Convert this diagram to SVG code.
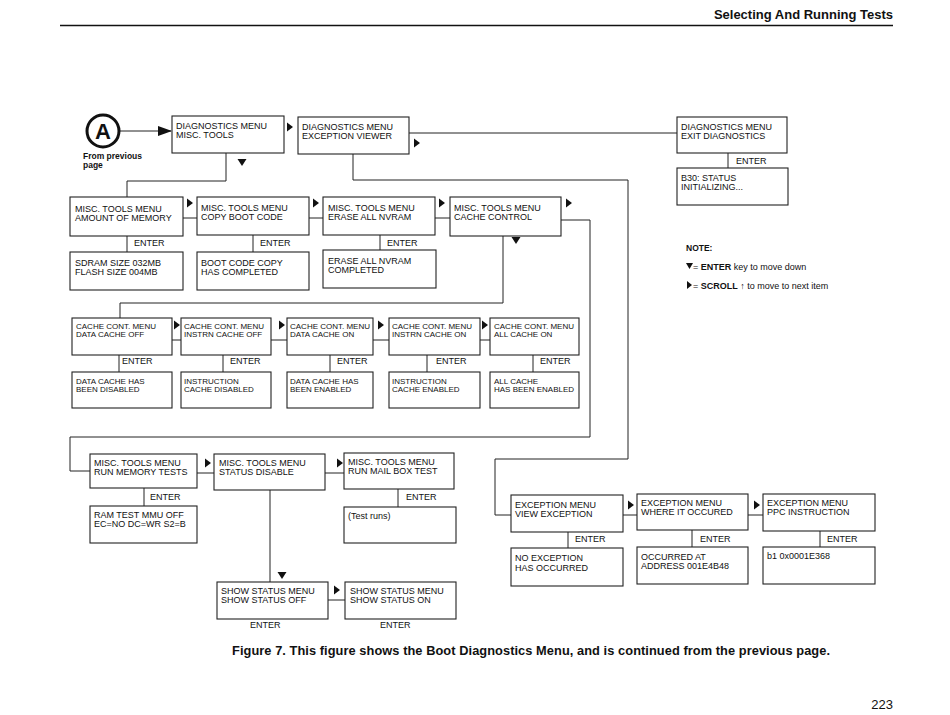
<svg xmlns="http://www.w3.org/2000/svg" width="950" height="715" viewBox="0 0 950 715">
<style>
  .b { fill: #fff; stroke: #222; stroke-width: 1.1; }
  .c { fill: none; stroke: #222; stroke-width: 1; }
  text { font-family: "Liberation Sans", Arial, sans-serif; fill: #111; }
  .t { font-size: 9px; }
  .s { font-size: 8px; }
  .e { font-size: 9px; }
  .tri { fill: #111; }
</style>
<defs>
  <polygon id="tr" class="tri" points="0,-4.5 0,4.5 6,0"/>
  <polygon id="td" class="tri" points="-4.5,0 4.5,0 0,7"/>
  <marker id="ah" markerWidth="14" markerHeight="10" refX="13" refY="5" orient="auto" markerUnits="userSpaceOnUse">
    <polygon points="0,0 14,5 0,10" fill="#111"/>
  </marker>
</defs>
<rect width="950" height="715" fill="#fff"/>

<!-- header -->
<text x="893" y="19" font-size="13" font-weight="bold" text-anchor="end">Selecting And Running Tests</text>
<line x1="60" y1="25.5" x2="893" y2="25.5" stroke="#111" stroke-width="1.5"/>

<!-- connectors -->
<g id="connectors">
  <line class="c" x1="120" y1="131" x2="171" y2="131" marker-end="url(#ah)"/>
  <polyline class="c" points="226,153 226,181 127,181 127,197"/>
  <polyline class="c" points="409,133 677,133"/>
  <polyline class="c" points="353,154 353,180 628,180 628,459 495,459 495,515 511,515"/>
  <line class="c" x1="728" y1="153" x2="728" y2="168"/>
  <!-- row 1 -->
  <line class="c" x1="183" y1="218" x2="197" y2="218"/>
  <line class="c" x1="309" y1="218" x2="323" y2="218"/>
  <line class="c" x1="435" y1="218" x2="450" y2="218"/>
  <line class="c" x1="127" y1="236" x2="127" y2="252"/>
  <line class="c" x1="253" y1="235" x2="253" y2="252"/>
  <line class="c" x1="380" y1="235" x2="380" y2="250"/>
  <polyline class="c" points="503,236 503,303 120,303 120,318"/>
  <polyline class="c" points="561,220 590,220 590,437 70,437 70,471 90,471"/>
  <!-- row 2 -->
  <line class="c" x1="172" y1="340" x2="181" y2="340"/>
  <line class="c" x1="271" y1="340" x2="287" y2="340"/>
  <line class="c" x1="373" y1="340" x2="389" y2="340"/>
  <line class="c" x1="480" y1="340" x2="490" y2="340"/>
  <line class="c" x1="119" y1="355" x2="119" y2="372"/>
  <line class="c" x1="223" y1="355" x2="223" y2="372"/>
  <line class="c" x1="330" y1="355" x2="330" y2="372"/>
  <line class="c" x1="427" y1="355" x2="427" y2="372"/>
  <line class="c" x1="533" y1="355" x2="533" y2="372"/>
  <!-- row 3 -->
  <line class="c" x1="197" y1="473" x2="214" y2="473"/>
  <line class="c" x1="325" y1="473" x2="344" y2="473"/>
  <line class="c" x1="144" y1="488" x2="144" y2="506"/>
  <line class="c" x1="398" y1="489" x2="398" y2="507"/>
  <line class="c" x1="270" y1="490" x2="270" y2="582"/>
  <line class="c" x1="328" y1="600" x2="345" y2="600"/>
  <!-- exception row -->
  <line class="c" x1="623" y1="515" x2="637" y2="515"/>
  <line class="c" x1="748" y1="515" x2="763" y2="515"/>
  <line class="c" x1="568" y1="532" x2="568" y2="548"/>
  <line class="c" x1="692" y1="530" x2="692" y2="547"/>
  <line class="c" x1="820" y1="531" x2="820" y2="547"/>
  <!-- triangles -->
  <use href="#tr" x="287" y="127"/>
  <use href="#td" x="242" y="159"/>
  <use href="#tr" x="414" y="143"/>
  <use href="#tr" x="187" y="203"/>
  <use href="#tr" x="313" y="203"/>
  <use href="#tr" x="439" y="203"/>
  <use href="#tr" x="566" y="203"/>
  <use href="#td" x="516" y="237"/>
  <use href="#tr" x="174" y="325"/>
  <use href="#tr" x="279" y="325"/>
  <use href="#tr" x="378" y="325"/>
  <use href="#tr" x="482" y="325"/>
  <use href="#tr" x="205" y="463"/>
  <use href="#tr" x="337" y="463"/>
  <use href="#td" x="282" y="572"/>
  <use href="#tr" x="334" y="590"/>
  <use href="#tr" x="628" y="505"/>
  <use href="#tr" x="754" y="505"/>
</g>

<!-- start circle -->
<g id="start">
  <circle cx="103" cy="131" r="16" fill="#fff" stroke="#111" stroke-width="3"/>
  <text x="103" y="139" font-size="22" font-weight="bold" text-anchor="middle">A</text>
  <text x="83" y="159" font-size="8.5" font-weight="bold">From previous</text>
  <text x="83" y="168" font-size="8.5" font-weight="bold">page</text>
</g>

<g id="n_diag_misc"><rect class="b" x="172" y="116" width="112" height="37"/>
  <text class="t" x="176" y="128.5">DIAGNOSTICS MENU</text><text class="t" x="176" y="137.5">MISC. TOOLS</text></g>
<g id="n_diag_exc"><rect class="b" x="298" y="117" width="111" height="37"/>
  <text class="t" x="302" y="129.5">DIAGNOSTICS MENU</text><text class="t" x="302" y="138.5">EXCEPTION VIEWER</text></g>
<g id="n_diag_exit"><rect class="b" x="677" y="117" width="110" height="36"/>
  <text class="t" x="681" y="129.5">DIAGNOSTICS MENU</text><text class="t" x="681" y="138.5">EXIT DIAGNOSTICS</text>
  <text class="e" x="736" y="164">ENTER</text></g>
<g id="n_b30"><rect class="b" x="677" y="168" width="111" height="37"/>
  <text class="t" x="681" y="180.5">B30: STATUS</text><text class="t" x="681" y="189.5">INITIALIZING...</text></g>

<!-- row 1 -->
<g id="n_mem"><rect class="b" x="70" y="197" width="113" height="39"/>
  <text class="t" x="75" y="212">MISC. TOOLS MENU</text><text class="t" x="75" y="221">AMOUNT OF MEMORY</text>
  <text class="e" x="134" y="246">ENTER</text></g>
<g id="n_mem_r"><rect class="b" x="70" y="252" width="113" height="38"/>
  <text class="t" x="75" y="266">SDRAM SIZE 032MB</text><text class="t" x="75" y="275">FLASH SIZE 004MB</text></g>
<g id="n_copy"><rect class="b" x="197" y="197" width="112" height="38"/>
  <text class="t" x="201" y="211">MISC. TOOLS MENU</text><text class="t" x="201" y="220">COPY BOOT CODE</text>
  <text class="e" x="260" y="246">ENTER</text></g>
<g id="n_copy_r"><rect class="b" x="197" y="252" width="112" height="38"/>
  <text class="t" x="201" y="266">BOOT CODE COPY</text><text class="t" x="201" y="275">HAS COMPLETED</text></g>
<g id="n_erase"><rect class="b" x="323" y="197" width="112" height="38"/>
  <text class="t" x="328" y="211">MISC. TOOLS MENU</text><text class="t" x="328" y="220">ERASE ALL NVRAM</text>
  <text class="e" x="387" y="246">ENTER</text></g>
<g id="n_erase_r"><rect class="b" x="323" y="250" width="113" height="38"/>
  <text class="t" x="328" y="264">ERASE ALL NVRAM</text><text class="t" x="328" y="273">COMPLETED</text></g>
<g id="n_cache"><rect class="b" x="450" y="197" width="111" height="39"/>
  <text class="t" x="454" y="211">MISC. TOOLS MENU</text><text class="t" x="454" y="220">CACHE CONTROL</text></g>

<!-- row 2 -->
<g id="n_dcoff"><rect class="b" x="72" y="318" width="100" height="37"/>
  <text class="s" x="76" y="329">CACHE CONT. MENU</text><text class="s" x="76" y="337">DATA CACHE OFF</text>
  <text class="e" x="122" y="364">ENTER</text></g>
<g id="n_dcoff_r"><rect class="b" x="72" y="372" width="100" height="36"/>
  <text class="s" x="76" y="384">DATA CACHE HAS</text><text class="s" x="76" y="392">BEEN DISABLED</text></g>
<g id="n_icoff"><rect class="b" x="181" y="318" width="90" height="37"/>
  <text class="s" x="184" y="329">CACHE CONT. MENU</text><text class="s" x="184" y="337">INSTRN CACHE OFF</text>
  <text class="e" x="230" y="364">ENTER</text></g>
<g id="n_icoff_r"><rect class="b" x="181" y="372" width="90" height="36"/>
  <text class="s" x="184" y="384">INSTRUCTION</text><text class="s" x="184" y="392">CACHE DISABLED</text></g>
<g id="n_dcon"><rect class="b" x="287" y="318" width="86" height="37"/>
  <text class="s" x="290" y="329">CACHE CONT. MENU</text><text class="s" x="290" y="337">DATA CACHE ON</text>
  <text class="e" x="337" y="364">ENTER</text></g>
<g id="n_dcon_r"><rect class="b" x="287" y="372" width="86" height="36"/>
  <text class="s" x="290" y="384">DATA CACHE HAS</text><text class="s" x="290" y="392">BEEN ENABLED</text></g>
<g id="n_icon"><rect class="b" x="389" y="318" width="91" height="37"/>
  <text class="s" x="392" y="329">CACHE CONT. MENU</text><text class="s" x="392" y="337">INSTRN CACHE ON</text>
  <text class="e" x="436" y="364">ENTER</text></g>
<g id="n_icon_r"><rect class="b" x="389" y="372" width="91" height="36"/>
  <text class="s" x="392" y="384">INSTRUCTION</text><text class="s" x="392" y="392">CACHE ENABLED</text></g>
<g id="n_allon"><rect class="b" x="490" y="318" width="89" height="37"/>
  <text class="s" x="494" y="329">CACHE CONT. MENU</text><text class="s" x="494" y="337">ALL CACHE ON</text>
  <text class="e" x="540" y="364">ENTER</text></g>
<g id="n_allon_r"><rect class="b" x="490" y="372" width="89" height="36"/>
  <text class="s" x="494" y="384">ALL CACHE</text><text class="s" x="494" y="392">HAS BEEN ENABLED</text></g>

<!-- row 3 -->
<g id="n_runmem"><rect class="b" x="90" y="454" width="107" height="34"/>
  <text class="t" x="94" y="466">MISC. TOOLS MENU</text><text class="t" x="94" y="475">RUN MEMORY TESTS</text>
  <text class="e" x="150" y="500">ENTER</text></g>
<g id="n_runmem_r"><rect class="b" x="90" y="506" width="107" height="37"/>
  <text class="t" x="94" y="518">RAM TEST MMU OFF</text><text class="t" x="94" y="527">EC=NO DC=WR S2=B</text></g>
<g id="n_statdis"><rect class="b" x="214" y="454" width="111" height="36"/>
  <text class="t" x="219" y="466">MISC. TOOLS MENU</text><text class="t" x="219" y="475">STATUS DISABLE</text></g>
<g id="n_mail"><rect class="b" x="344" y="453" width="110" height="36"/>
  <text class="t" x="348" y="465">MISC. TOOLS MENU</text><text class="t" x="348" y="474">RUN MAIL BOX TEST</text>
  <text class="e" x="406" y="500">ENTER</text></g>
<g id="n_mail_r"><rect class="b" x="344" y="507" width="112" height="36"/>
  <text class="t" x="348" y="519">(Test runs)</text></g>
<g id="n_showoff"><rect class="b" x="217" y="582" width="111" height="37"/>
  <text class="t" x="221" y="594">SHOW STATUS MENU</text><text class="t" x="221" y="603">SHOW STATUS OFF</text>
  <text class="e" x="250" y="628">ENTER</text></g>
<g id="n_showon"><rect class="b" x="345" y="582" width="111" height="37"/>
  <text class="t" x="350" y="594">SHOW STATUS MENU</text><text class="t" x="350" y="603">SHOW STATUS ON</text>
  <text class="e" x="380" y="628">ENTER</text></g>

<!-- exception row -->
<g id="n_viewexc"><rect class="b" x="511" y="495" width="112" height="37"/>
  <text class="t" x="515" y="508">EXCEPTION MENU</text><text class="t" x="515" y="517">VIEW EXCEPTION</text>
  <text class="e" x="575" y="542">ENTER</text></g>
<g id="n_viewexc_r"><rect class="b" x="511" y="548" width="112" height="38"/>
  <text class="t" x="515" y="561">NO EXCEPTION</text><text class="t" x="515" y="571">HAS OCCURRED</text></g>
<g id="n_where"><rect class="b" x="637" y="494" width="111" height="36"/>
  <text class="t" x="641" y="506">EXCEPTION MENU</text><text class="t" x="641" y="515">WHERE IT OCCURED</text>
  <text class="e" x="700" y="542">ENTER</text></g>
<g id="n_where_r"><rect class="b" x="637" y="547" width="111" height="37"/>
  <text class="t" x="641" y="560">OCCURRED AT</text><text class="t" x="641" y="569">ADDRESS 001E4B48</text></g>
<g id="n_ppc"><rect class="b" x="763" y="494" width="112" height="37"/>
  <text class="t" x="767" y="506">EXCEPTION MENU</text><text class="t" x="767" y="515">PPC INSTRUCTION</text>
  <text class="e" x="827" y="542">ENTER</text></g>
<g id="n_ppc_r"><rect class="b" x="763" y="547" width="112" height="37"/>
  <text class="t" x="767" y="559">b1 0x0001E368</text></g>

<!-- note -->
<g id="note">
  <text x="686" y="251" font-size="8.5" font-weight="bold">NOTE:</text>
  <polygon class="tri" points="686,263 693,263 689.5,269"/>
  <text x="693" y="270" font-size="9">= <tspan font-weight="bold">ENTER</tspan> key to move down</text>
  <polygon class="tri" points="687,281 687,289 692,285"/>
  <text x="693" y="289" font-size="9">= <tspan font-weight="bold">SCROLL</tspan> ↑ to move to next item</text>
</g>

<text x="232" y="655" font-size="12.8" font-weight="bold" textLength="598" lengthAdjust="spacing">Figure 7. This figure shows the Boot Diagnostics Menu, and is continued from the previous page.</text>
<text x="893" y="709" font-size="13" text-anchor="end">223</text>
</svg>
